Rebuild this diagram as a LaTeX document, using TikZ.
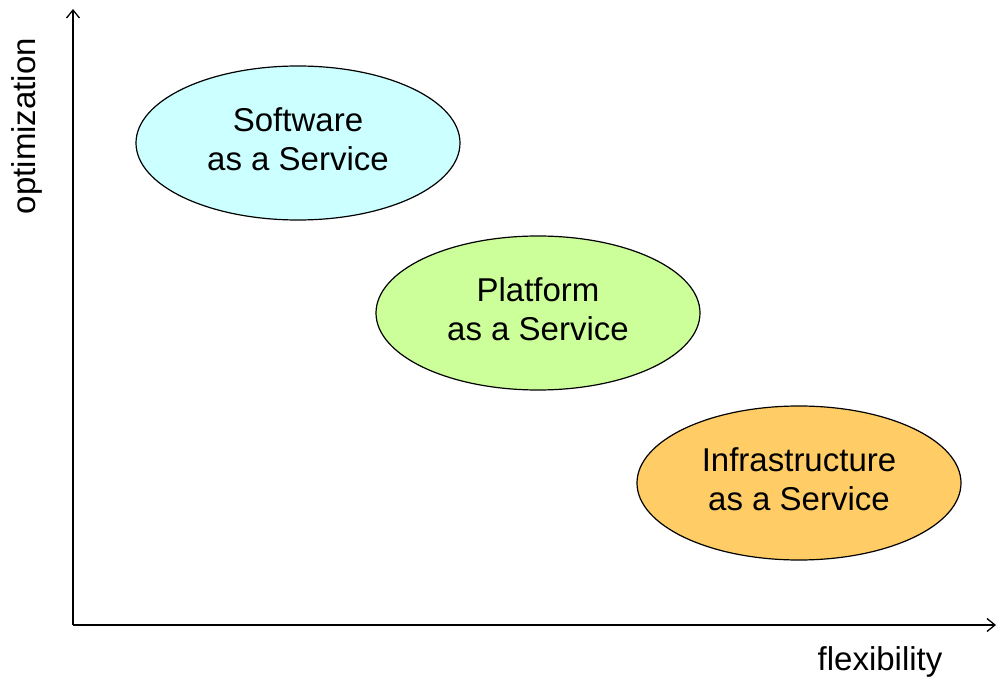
\documentclass[tikz,border=0pt]{standalone}
\usepackage{fontspec}
\setmainfont{Liberation Sans}
\usetikzlibrary{arrows.meta,shapes.geometric}
\definecolor{saas}{HTML}{CCFFFF}
\definecolor{paas}{HTML}{CCFF99}
\definecolor{iaas}{HTML}{FFCC66}
\begin{document}
\begin{tikzpicture}[x=1pt,y=-1pt,
  blob/.style={draw=black,line width=1.2pt,ellipse,minimum width=324pt,minimum height=154pt,inner sep=0pt},
  txt/.style={align=center,inner sep=0pt,font=\fontsize{33}{39}\selectfont},
  axis/.style={line width=1.3pt,-{Straight Barb[length=8pt,width=13pt,line width=1.3pt]}},
  lbl/.style={font=\fontsize{33}{39}\selectfont,inner sep=0pt}]
\useasboundingbox (0,0) rectangle (997,684);
\coordinate (o) at (73,625);
\coordinate (ytop) at (73,9);
\coordinate (xend) at (996,625);
\draw[axis] (o) -- (ytop);
\draw[axis] (o) -- (xend);
\node[blob,fill=saas] (s) at (298,143) {};
\node[blob,fill=paas] (p) at (538,313) {};
\node[blob,fill=iaas] (i) at (799,483) {};
\node[txt] (st) at ([yshift=4pt]s.center) {Software\\as a Service};
\node[txt] (pt) at ([yshift=4pt]p.center) {Platform\\as a Service};
\node[txt] (it) at ([yshift=4pt]i.center) {Infrastructure\\as a Service};
\node[lbl,rotate=90] (oy) at (27,126) {optimization};
\node[lbl] (fx) at (880,662) {flexibility};
\end{tikzpicture}
\end{document}
